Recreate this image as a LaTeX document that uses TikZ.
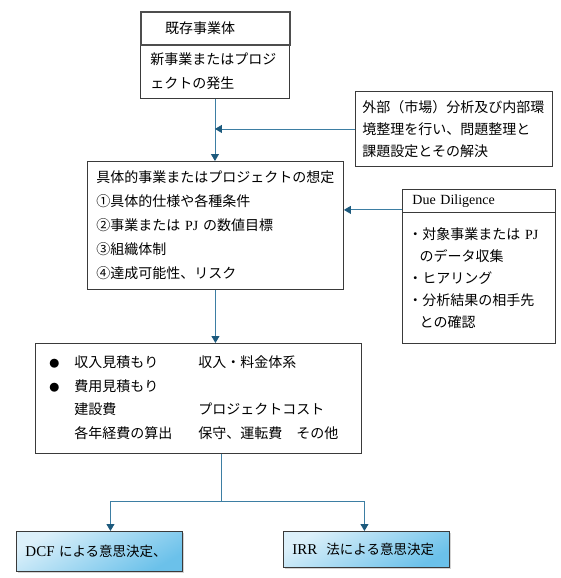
\documentclass[tikz,border=0pt]{standalone}
\usepackage{fontspec}
\setmainfont{Liberation Serif}
\newfontfamily\jp{Noto Sans CJK JP}
\usetikzlibrary{arrows.meta,positioning,calc,shadows}

\definecolor{linkblue}{HTML}{3D7EA3}
\definecolor{tipblue}{HTML}{1D5A7D}
\definecolor{boxgray}{HTML}{3A3A3A}
\definecolor{fillhi}{HTML}{DCF0FA}
\definecolor{filllo}{HTML}{6BC1EA}

\tikzset{
  box/.style={draw=boxgray, line width=0.9pt, anchor=north west, align=left,
    inner ysep=0pt, font=\jp\fontsize{14}{24}\selectfont},
  titlebox/.style={box, line width=2.2pt, draw=boxgray!90},
  resultbox/.style={box, top color=fillhi, bottom color=filllo, shading angle=30,
    font=\jp\fontsize{13.5}{16}\selectfont,
    drop shadow={shadow xshift=1.2pt, shadow yshift=-1.2pt, opacity=0.35}},
  link/.style={draw=linkblue, line width=0.9pt},
  tip/.style={-{Triangle[width=8pt,length=7pt,color=tipblue]}}
}

\begin{document}
\begin{tikzpicture}[x=1pt, y=-1pt]
  \useasboundingbox (0,0) rectangle (560,578);

  % Cajas de arriba
  \node[box, minimum width=149, minimum height=54, text width=129, inner xsep=10]
    (hassei) at (140,44) {新事業またはプロジ\\ェクトの発生};
  \node[titlebox, minimum width=149, minimum height=33, text width=101, inner xsep=24]
    (kizon) at (140,11) {既存事業体};
  \node[box, minimum width=197, minimum height=75, text width=183, inner xsep=7,
    font=\jp\fontsize{14}{22}\selectfont]
    (gaibu) at (355,91) {外部（市場）分析及び内部環\\境整理を行い、問題整理と\\課題設定とその解決};

  % Caja central
  \node[box, minimum width=256, minimum height=128, text width=238, inner xsep=9]
    (souti) at (87,161) {具体的事業またはプロジェクトの想定\\①具体的仕様や各種条件\\②事業または {\rmfamily PJ} の数値目標\\③組織体制\\④達成可能性、リスク};

  % Due Diligence
  \node[box, minimum width=153, minimum height=23, text width=133, inner xsep=10,
    font=\rmfamily\fontsize{14}{15}\selectfont]
    (ddhead) at (402,189) {Due Diligence};
  \node[box, minimum width=153, minimum height=131, text width=141, inner xsep=6,
    font=\jp\fontsize{14}{22}\selectfont]
    (ddbody) at (402,212) {・対象事業または {\rmfamily PJ}\\\hspace*{0.8em}のデータ収集\\・ヒアリング\\・分析結果の相手先\\\hspace*{0.8em}との確認};

  % Estimaciones
  \node[box, minimum width=326, minimum height=110, text width=304, inner xsep=11,
    font=\jp\fontsize{14}{23.5}\selectfont]
    (mitsumori) at (35,343) {%
    \begin{tabular}{@{}p{28pt}@{}p{124pt}@{}l@{}}
      \hspace*{3pt}{\fontsize{10}{10}\selectfont ●} & 収入見積もり & 収入・料金体系\\
      \hspace*{3pt}{\fontsize{10}{10}\selectfont ●} & 費用見積もり & \\
      & 建設費 & プロジェクトコスト\\
      & 各年経費の算出 & 保守、運転費　その他
    \end{tabular}};

  % Resultados
  \node[resultbox, minimum width=166, minimum height=40, text width=148, inner xsep=9]
    (dcf) at (16,531) {\mbox{{\rmfamily\fontsize{15}{15}\selectfont DCF} による意思決定、}};
  \node[resultbox, minimum width=166, minimum height=36, text width=148, inner xsep=9]
    (irr) at (283,531) {\mbox{{\rmfamily\fontsize{15}{15}\selectfont IRR}\ \ 法による意思決定}};

  % Conectores
  \draw[link, tip] (hassei.south) -- (hassei.south |- souti.north);
  \draw[link, tip] (gaibu.west) -- (gaibu.west -| hassei.south);
  \draw[link, tip] ([yshift=3pt]ddhead.south west) -- ([yshift=3pt]ddhead.south west -| souti.east);
  \draw[link, tip] (souti.south) -- (souti.south |- mitsumori.north);

  \coordinate (split) at (221,501);
  \draw[link] (split |- mitsumori.south) -- (split);
  \draw[link, tip] (split) -| ([xshift=11pt]dcf.north);
  \draw[link, tip] (split) -| ([xshift=-2pt]irr.north);
\end{tikzpicture}
\end{document}
